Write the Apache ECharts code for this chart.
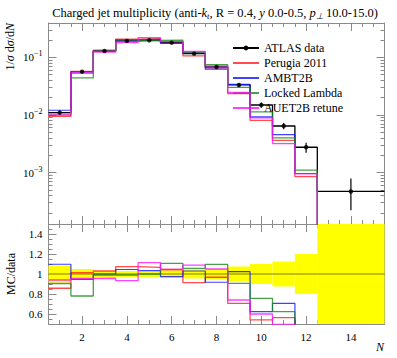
<!DOCTYPE html>
<html><head><meta charset="utf-8">
<script src="https://cdn.jsdelivr.net/npm/echarts@6/dist/echarts.min.js"></script>
<style>html,body{margin:0;padding:0;background:#fff}#c{width:397px;height:358px}</style>
</head><body><div id="c"></div>
<script>
// ---------- data ----------
const binEdges = [0.5,1.5,2.5,3.5,4.5,5.5,6.5,7.5,8.5,9.5,10.5,11.5,12.5,15.5];
const binCenters = [1,2,3,4,5,6,7,8,9,10,11,12,14];
const atlasData = [0.0110,0.0565,0.129,0.193,0.198,0.180,0.116,0.068,0.0332,0.0149,0.00644,0.00275,0.00047];
const atlasRelErrUp = [0.085,0.05,0.033,0.03,0.03,0.04,0.045,0.05,0.075,0.10,0.125,0.2,0.68];
const atlasRelErrDown = [0.085,0.05,0.033,0.03,0.03,0.04,0.045,0.05,0.075,0.10,0.125,0.2,0.53];
const perugia2011 = [0.00943,0.0572,0.1329,0.2071,0.2113,0.1881,0.1059,0.0658,0.02347,0.00805,0.003626,0.000853];
const ambt2b = [0.01207,0.0535,0.129,0.2017,0.2045,0.1751,0.1195,0.0624,0.03396,0.00928,0.004553,0.000963];
const lockedLambda = [0.009955,0.04407,0.1277,0.1911,0.198,0.1993,0.1226,0.0746,0.03011,0.01128,0.004012,0.0011];
const auet2bRetune = [0.01034,0.05396,0.1235,0.1801,0.2204,0.1881,0.1264,0.0714,0.02457,0.00894,0.003188,0.000949];
const xTickLabels = [2,4,6,8,10,12,14];
const mainYTickLabels = [1e-3,1e-2,1e-1];
const ratioYTickLabels = [0.6,0.8,1,1.2,1.4];

// ---------- helpers ----------
const FONT = 'Liberation Serif';
const AX = '#8a8a8a';
const X_MIN = 0.5, X_MAX = 15.5;
const Y_MIN = 1.28e-4, Y_MAX = 0.395;
const R_MIN = 0.5, R_MAX = 1.5;

const xMinor = [];
for (let i = 2; i <= 30; i++) { const v = i / 2; if (xTickLabels.indexOf(v) < 0) xMinor.push(v); }
const logMinor = [];
for (let k = -4; k <= -1; k++) for (let m = 2; m <= 9; m++) {
  const v = +(m * Math.pow(10, k)).toPrecision(3);
  if (v > Y_MIN && v < Y_MAX) logMinor.push(v);
}
const ratioMinor = [];
for (let i = 11; i <= 29; i++) { const v = +(i * 0.05).toFixed(2); if (ratioYTickLabels.indexOf(v) < 0) ratioMinor.push(v); }

function xAxesFor(g, showLabels) {
  const base = {type:'value', gridIndex:g, min:X_MIN, max:X_MAX, splitLine:{show:false}};
  const major = {show:true, inside:true, length:8, customValues:xTickLabels, lineStyle:{color:AX}};
  const minor = {show:true, inside:true, length:4, customValues:xMinor, lineStyle:{color:AX}};
  return [
    Object.assign({}, base, {position:'bottom', axisLine:{show:true, lineStyle:{color:AX}}, axisTick:major,
      axisLabel:{show:showLabels, customValues:xTickLabels, color:'#000', fontFamily:FONT, fontSize:11, margin:7}}),
    Object.assign({}, base, {position:'bottom', axisLine:{show:false}, axisTick:minor, axisLabel:{show:false}}),
    Object.assign({}, base, {position:'top', axisLine:{show:true, lineStyle:{color:AX}}, axisTick:major, axisLabel:{show:false}}),
    Object.assign({}, base, {position:'top', axisLine:{show:false}, axisTick:minor, axisLabel:{show:false}})
  ];
}
function yAxesFor(g, type, min, max, majors, minors, label) {
  const base = {type:type, gridIndex:g, min:min, max:max, splitLine:{show:false}};
  if (type === 'log') base.logBase = 10;
  const major = {show:true, inside:true, length:8, customValues:majors, lineStyle:{color:AX}};
  const minor = {show:true, inside:true, length:4, customValues:minors, lineStyle:{color:AX}};
  return [
    Object.assign({}, base, {position:'left', axisLine:{show:true, lineStyle:{color:AX}}, axisTick:major, axisLabel:label}),
    Object.assign({}, base, {position:'left', axisLine:{show:false}, axisTick:minor, axisLabel:{show:false}}),
    Object.assign({}, base, {position:'right', axisLine:{show:true, lineStyle:{color:AX}}, axisTick:major, axisLabel:{show:false}}),
    Object.assign({}, base, {position:'right', axisLine:{show:false}, axisTick:minor, axisLabel:{show:false}})
  ];
}
// step outline: left edges with values, closing point
function stepData(vals, closeVal) {
  const pts = vals.map((v, i) => [binEdges[i], v]);
  pts.push([binEdges[vals.length], closeVal === undefined ? vals[vals.length - 1] : closeVal]);
  return pts;
}
const FLOOR_MAIN = 1e-7, FLOOR_RATIO = 0.01;
const ratio = arr => arr.map((v, i) => v / atlasData[i]);

const mcSeries = [
  {name:'Perugia 2011', vals:perugia2011, color:'#ff2020', width:1.3},
  {name:'AMBT2B', vals:ambt2b, color:'#1010ff', width:1.2},
  {name:'Locked Lambda', vals:lockedLambda, color:'#1a8a1a', width:1.3},
  {name:'AUET2B retune', vals:auet2bRetune, color:'#ff10ff', width:1.3}
];

const series = [];
// ---- main panel ----
series.push({
  name:'ATLAS data', type:'line', xAxisIndex:0, yAxisIndex:0, step:'end',
  data: stepData(atlasData), symbol:'circle', symbolSize:4, showSymbol:false,
  color:'#000', lineStyle:{color:'#000', width:1.3}, z:3, silent:true
});
mcSeries.forEach((s, k) => series.push({
  name:s.name, type:'line', xAxisIndex:0, yAxisIndex:0, step:'end',
  data: stepData(s.vals, FLOOR_MAIN), symbol:'none', clip:true,
  color:s.color, lineStyle:{color:s.color, width:s.width, opacity:0.8}, z:4 + k, silent:true
}));
series.push({
  name:'ATLAS errors', type:'custom', xAxisIndex:0, yAxisIndex:0, clip:true, z:9, silent:true,
  data: binCenters.map((c, i) => [c, atlasData[i] * (1 - atlasRelErrDown[i]), atlasData[i] * (1 + atlasRelErrUp[i])]),
  encode:{x:0, y:[1,2]},
  renderItem: function (params, api) {
    const p1 = api.coord([api.value(0), api.value(1)]);
    const p2 = api.coord([api.value(0), api.value(2)]);
    return {type:'line', shape:{x1:p1[0], y1:p1[1], x2:p2[0], y2:p2[1]}, style:{stroke:'#000', lineWidth:1.2}};
  }
});
series.push({
  name:'ATLAS points', type:'scatter', xAxisIndex:0, yAxisIndex:0, z:10, silent:true,
  data: binCenters.map((c, i) => [c, atlasData[i]]), symbol:'circle', symbolSize:4.5,
  itemStyle:{color:'#000'}
});
// ---- ratio panel ----
series.push({
  name:'Data band', type:'custom', xAxisIndex:4, yAxisIndex:4, clip:true, z:1, silent:true,
  data: atlasData.map((d, i) => [binEdges[i], binEdges[i + 1], 1 - atlasRelErrDown[i], 1 + atlasRelErrUp[i]]),
  encode:{x:[0,1], y:[2,3]},
  renderItem: function (params, api) {
    const p0 = api.coord([api.value(0), api.value(3)]);
    const p1 = api.coord([api.value(1), api.value(2)]);
    return {type:'rect', shape:{x:p0[0], y:p0[1], width:p1[0] - p0[0], height:p1[1] - p0[1]}, style:{fill:'#ffff00'}};
  }
});
series.push({
  name:'Data ratio', type:'line', xAxisIndex:4, yAxisIndex:4, step:'end',
  data: stepData(atlasData.map(() => 1)), symbol:'none',
  lineStyle:{color:'rgba(0,0,0,0.5)', width:1}, z:2, silent:true
});
mcSeries.forEach((s, k) => series.push({
  name:s.name + ' ratio', type:'line', xAxisIndex:4, yAxisIndex:4, step:'end',
  data: stepData(ratio(s.vals), FLOOR_RATIO), symbol:'none', clip:true,
  color:s.color, lineStyle:{color:s.color, width:s.width, opacity:0.8}, z:4 + k, silent:true
}));

const option = {
  animation:false,
  backgroundColor:'#fff',
  title:{
    text:'Charged jet multiplicity (anti-{i|k}{sub|t}, R = 0.4, {i|y} 0.0-0.5, {i|p}{sub|⊥} 10.0-15.0)',
    right:14, top:1,
    textStyle:{fontFamily:FONT, fontSize:12.5, fontWeight:'normal', color:'#000',
      rich:{i:{fontFamily:FONT, fontSize:12.5, fontStyle:'italic', color:'#000'},
            sub:{fontFamily:FONT, fontSize:8.5, fontStyle:'italic', color:'#000', padding:[5,0,0,0]}}}
  },
  legend:{
    orient:'vertical', left:227, top:37, itemWidth:26, itemHeight:6, itemGap:3,
    selectedMode:false,
    textStyle:{fontFamily:FONT, fontSize:12, color:'#000', lineHeight:12, padding:[0,0,0,0]},
    data:[
      {name:'ATLAS data'},
      {name:'Perugia 2011', itemStyle:{opacity:0}},
      {name:'AMBT2B', itemStyle:{opacity:0}},
      {name:'Locked Lambda', itemStyle:{opacity:0}},
      {name:'AUET2B retune', itemStyle:{opacity:0}}
    ]
  },
  grid:[
    {left:48.5, top:23, width:336, height:201},
    {left:48.5, top:224, width:336, height:100}
  ],
  xAxis: xAxesFor(0, false).concat(xAxesFor(1, true)),
  yAxis: yAxesFor(0, 'log', Y_MIN, Y_MAX, mainYTickLabels, logMinor, {
      show:true, customValues:mainYTickLabels, margin:6, color:'#000', fontFamily:FONT, fontSize:11,
      formatter: v => '10{s|−' + Math.round(-Math.log10(v)) + '}',
      rich:{s:{fontFamily:FONT, fontSize:8, color:'#000', padding:[0,0,7,0]}}
    }).concat(yAxesFor(1, 'value', R_MIN, R_MAX, ratioYTickLabels, ratioMinor, {
      show:true, customValues:ratioYTickLabels, margin:6, color:'#000', fontFamily:FONT, fontSize:11
    })),
  graphic:[
    {type:'text', x:10, y:23, rotation:Math.PI/2, silent:true,
     style:{text:'1/{i|σ} d{i|σ}/d{i|N}', fontFamily:FONT, fontSize:12, fill:'#000', align:'right', verticalAlign:'middle',
            textAlign:'right', textVerticalAlign:'middle',
            rich:{i:{fontFamily:FONT, fontSize:12, fontStyle:'italic', fill:'#000'}}}},
    {type:'text', x:11, y:274, rotation:Math.PI/2, silent:true,
     style:{text:'MC/data', fontFamily:FONT, fontSize:12, fill:'#000', align:'center', verticalAlign:'middle',
            textAlign:'center', textVerticalAlign:'middle'}},
    {type:'text', x:384, y:347, silent:true,
     style:{text:'N', fontFamily:FONT, fontSize:12, fontStyle:'italic', fill:'#000', align:'right', verticalAlign:'middle',
            textAlign:'right', textVerticalAlign:'middle'}}
  ],
  series: series
};
const chart = echarts.init(document.getElementById('c'), null, {renderer:'svg'});
chart.setOption(option);
</script></body></html>
